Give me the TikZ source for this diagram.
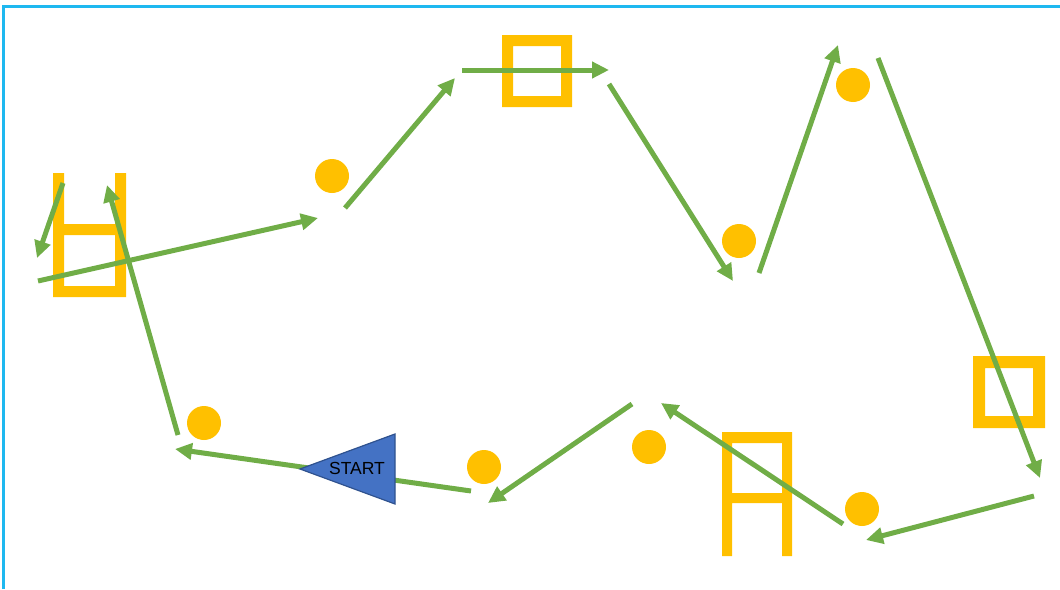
\documentclass[tikz,border=0pt]{standalone}
\usepackage{fontspec}
\setmainfont{Liberation Sans}
\usetikzlibrary{arrows.meta}
\definecolor{gold}{HTML}{FFC000}
\definecolor{grn}{HTML}{70AD47}
\definecolor{cyanb}{HTML}{1EB8F0}
\definecolor{tblue}{HTML}{4472C4}
\definecolor{tedge}{HTML}{2F528F}
\tikzset{
  route/.style={draw=grn, line width=5pt, -{Triangle[length=17pt,width=16pt]}},
  ball/.style={fill=gold, draw=none},
  frame/.style={fill=gold, draw=none},
}
\begin{document}
\begin{tikzpicture}[x=1pt,y=-1pt]
\useasboundingbox (0,0) rectangle (1060,589);
% border
\draw[cyanb, line width=3.5pt] (3.5,589) |- (1060,6.5);
% left chair
\fill[frame] (53,173) rectangle (64,297) (115,173) rectangle (126,297)
  (53,224) rectangle (126,235) (53,286) rectangle (126,297);
% bottom chair
\fill[frame] (722,432) rectangle (792,443) (722,493) rectangle (792,503)
  (722,432) rectangle (732,556) (782,432) rectangle (792,556);
% boxes
\fill[frame, even odd rule] (502,35) rectangle (572,107) (513,46) rectangle (561,96);
\fill[frame, even odd rule] (973,356) rectangle (1045,428) (985,368) rectangle (1033,416);
% balls
\foreach \p in {{(332,176)},{(853,85)},{(739,241)},{(204,423)},{(484,467)},{(649,447)},{(862,509)}}
  \fill[ball] \p circle (17);
% route coordinates
\coordinate (s0) at (471,491);  \coordinate (e0) at (175,449);
\coordinate (s1) at (178,435);  \coordinate (e1) at (107,185);
\coordinate (s2) at (63,183);   \coordinate (e2) at (37,258);
\coordinate (s3) at (38,281);   \coordinate (e3) at (318,218);
\coordinate (s4) at (345,208);  \coordinate (e4) at (455,78);
\coordinate (s5) at (462,70);   \coordinate (e5) at (609,70);
\coordinate (s6) at (609,84);   \coordinate (e6) at (733,281);
\coordinate (s7) at (759,273);  \coordinate (e7) at (838,45);
\coordinate (s8) at (878,58);   \coordinate (e8) at (1040,478);
\coordinate (s9) at (1034,496); \coordinate (e9) at (866,540);
\coordinate (s10) at (843,524); \coordinate (e10) at (661,403);
\coordinate (s11) at (632,404); \coordinate (e11) at (488,503);
\foreach \i in {0,...,11}
  \draw[route] (s\i) -- (e\i);
% start triangle
\coordinate (t1) at (300,469);
\coordinate (t2) at (395,434);
\coordinate (t3) at (395,504);
\filldraw[fill=tblue, draw=tedge, line width=1.2pt, line join=miter] (t1) -- (t2) -- (t3) -- cycle;
\node[font=\fontsize{17.5}{19}\selectfont, inner sep=0pt] (start) at (357,468) {START};
\end{tikzpicture}
\end{document}
